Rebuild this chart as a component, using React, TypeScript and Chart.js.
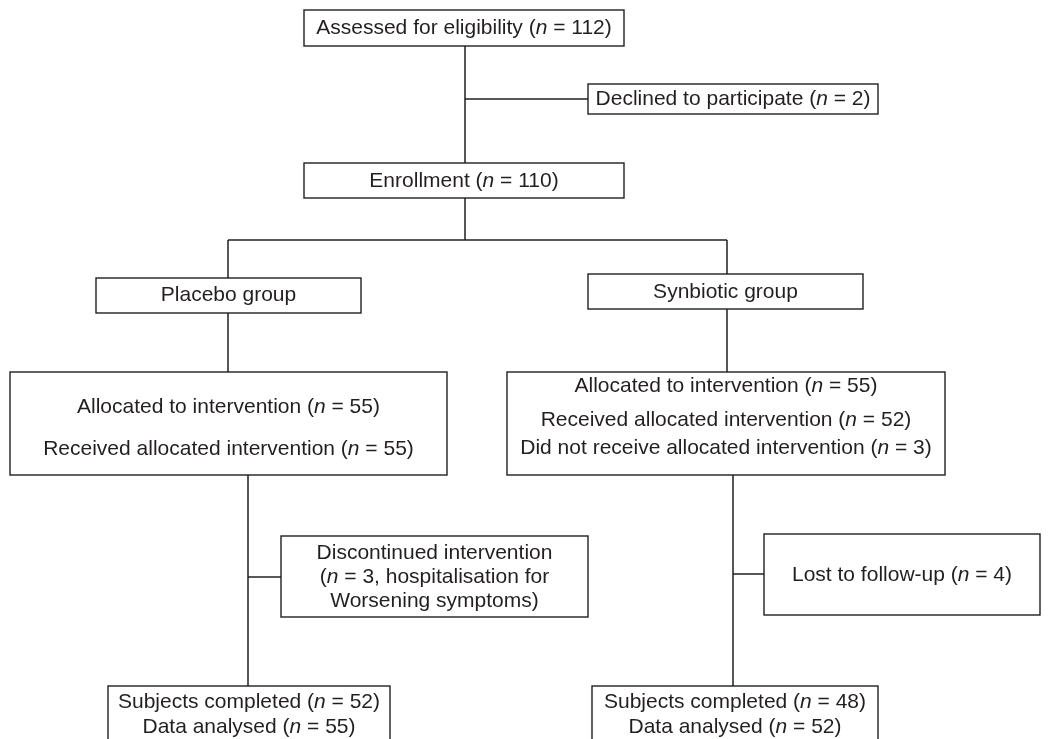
import React, { useEffect, useRef } from "react";
import { Chart, registerables } from "chart.js";

Chart.register(...registerables);

// ---- Data (flow stages, texts and counts) ----
const stageTitles = [
  "Assessed for eligibility",
  "Declined to participate",
  "Enrollment",
  "Placebo group",
  "Synbiotic group",
];
const stageCounts = [112, 2, 110];
const placeboLines = [
  "Allocated to intervention (n = 55)",
  "Received allocated intervention (n = 55)",
];
const synbioticLines = [
  "Allocated to intervention (n = 55)",
  "Received allocated intervention (n = 52)",
  "Did not receive allocated intervention (n = 3)",
];
const discontinuedLines = [
  "Discontinued intervention",
  "(n = 3, hospitalisation for",
  "Worsening symptoms)",
];
const lostLines = ["Lost to follow-up (n = 4)"];
const placeboFinal = ["Subjects completed (n = 52)", "Data analysed (n = 55)"];
const synbioticFinal = ["Subjects completed (n = 48)", "Data analysed (n = 52)"];

// ---- Layout (in chart data units) ----
type Box = { r: [number, number, number, number]; lines: string[]; ys: number[] };
const boxes: Box[] = [
  { r: [304, 10, 624, 46], lines: [`${stageTitles[0]} (n = ${stageCounts[0]})`], ys: [28] },
  { r: [588, 84, 878, 114], lines: [`${stageTitles[1]} (n = ${stageCounts[1]})`], ys: [99] },
  { r: [304, 163, 624, 198], lines: [`${stageTitles[2]} (n = ${stageCounts[2]})`], ys: [181] },
  { r: [96, 278, 361, 313], lines: [stageTitles[3]], ys: [295] },
  { r: [588, 274, 863, 309], lines: [stageTitles[4]], ys: [292] },
  { r: [10, 372, 447, 475], lines: placeboLines, ys: [407, 449] },
  { r: [507, 372, 945, 475], lines: synbioticLines, ys: [386, 420, 448] },
  { r: [281, 536, 588, 617], lines: discontinuedLines, ys: [553, 577, 601] },
  { r: [764, 534, 1040, 615], lines: lostLines, ys: [575] },
  { r: [108, 686, 390, 760], lines: placeboFinal, ys: [702, 727] },
  { r: [592, 686, 878, 760], lines: synbioticFinal, ys: [702, 727] },
];
const connectors: [number, number, number, number][] = [
  [465, 46, 465, 163],
  [465, 99, 588, 99],
  [465, 198, 465, 240],
  [228, 240, 727, 240],
  [228, 240, 228, 278],
  [727, 240, 727, 274],
  [228, 313, 228, 372],
  [727, 309, 727, 372],
  [248, 475, 248, 686],
  [248, 577, 281, 577],
  [733, 475, 733, 686],
  [733, 574, 764, 574],
];

const INK = "#231f20";
const FONT = '"Liberation Sans", Arial, Helvetica, sans-serif';
const FONT_SIZE = 21;

function drawRich(ctx: CanvasRenderingContext2D, text: string, cx: number, cy: number) {
  const segs = text.split(/(\bn(?= = ))/).filter((s) => s.length > 0);
  const fonts = segs.map((s) => (s === "n" ? `italic ${FONT_SIZE}px ${FONT}` : `${FONT_SIZE}px ${FONT}`));
  let total = 0;
  const widths = segs.map((s, i) => {
    ctx.font = fonts[i];
    const w = ctx.measureText(s).width;
    total += w;
    return w;
  });
  let x = cx - total / 2;
  segs.forEach((s, i) => {
    ctx.font = fonts[i];
    ctx.fillText(s, x, cy);
    x += widths[i];
  });
}

const boxPlugin = {
  id: "flowBoxes",
  afterDatasetsDraw(chart: any) {
    const ctx: CanvasRenderingContext2D = chart.ctx;
    const xs = chart.scales.x;
    const ysc = chart.scales.y;
    ctx.save();
    boxes.forEach((b) => {
      const x0 = xs.getPixelForValue(b.r[0]);
      const x1 = xs.getPixelForValue(b.r[2]);
      const y0 = ysc.getPixelForValue(b.r[1]);
      const y1 = ysc.getPixelForValue(b.r[3]);
      ctx.fillStyle = "#ffffff";
      ctx.fillRect(x0, y0, x1 - x0, y1 - y0);
      ctx.strokeStyle = INK;
      ctx.lineWidth = 1.4;
      ctx.strokeRect(x0, y0, x1 - x0, y1 - y0);
      ctx.fillStyle = INK;
      ctx.textBaseline = "middle";
      ctx.textAlign = "left";
      const cx = (x0 + x1) / 2;
      b.lines.forEach((line, i) => {
        drawRich(ctx, line, cx, ysc.getPixelForValue(b.ys[i]));
      });
    });
    ctx.restore();
  },
};

export default function App() {
  const ref = useRef<HTMLCanvasElement | null>(null);
  useEffect(() => {
    if (!ref.current) return;
    const chart = new Chart(ref.current, {
      type: "scatter",
      data: {
        datasets: connectors.map((c) => ({
          data: [
            { x: c[0], y: c[1] },
            { x: c[2], y: c[3] },
          ],
          showLine: true,
          borderColor: INK,
          borderWidth: 1.5,
          pointRadius: 0,
          pointHoverRadius: 0,
          fill: false,
        })),
      },
      options: {
        animation: false,
        responsive: false,
        maintainAspectRatio: false,
        layout: { padding: 0 },
        plugins: { legend: { display: false }, tooltip: { enabled: false } },
        events: [],
        scales: {
          x: { type: "linear", min: 0, max: 1058, display: false },
          y: { type: "linear", min: 0, max: 739, reverse: true, display: false },
        },
      },
      plugins: [boxPlugin],
    });
    return () => chart.destroy();
  }, []);
  return (
    <div style={{ position: "fixed", left: 0, top: 0, width: 1058, height: 739, background: "#fff" }}>
      <canvas ref={ref} width={1058} height={739} style={{ display: "block", width: 1058, height: 739 }} />
    </div>
  );
}
